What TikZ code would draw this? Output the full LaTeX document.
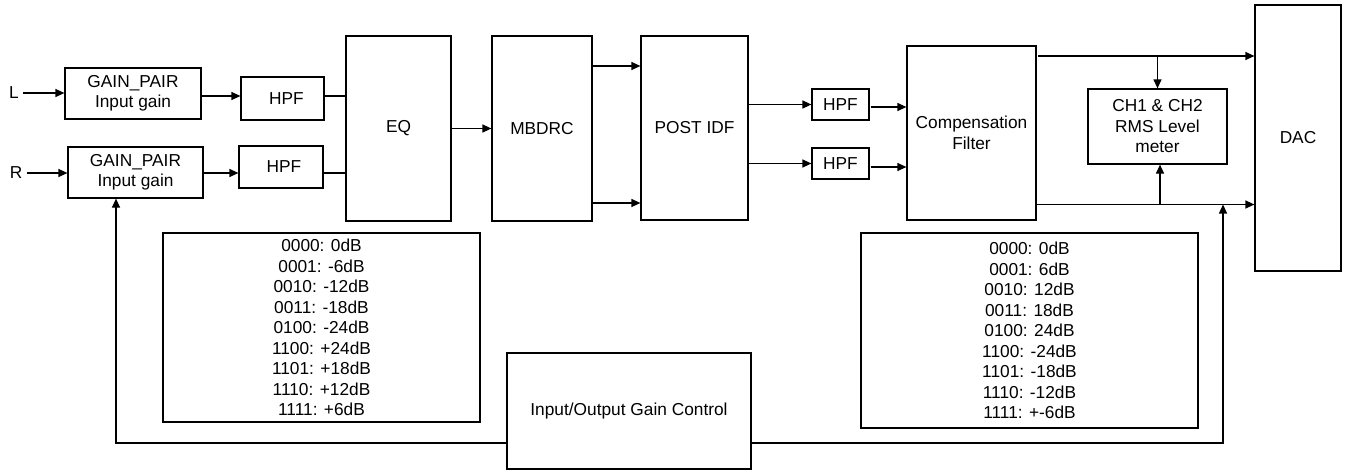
\documentclass[tikz,border=0pt]{standalone}
\usepackage{fontspec}
\setmainfont{Liberation Sans}
\usetikzlibrary{arrows.meta}
\newcommand\diafont{\fontsize{17.3pt}{20.5pt}\selectfont}
\begin{document}
\begin{tikzpicture}[x=1pt,y=-1pt,line width=1.2pt,
  box/.style={draw,line width=1.2pt,inner sep=0pt,align=center,font=\diafont},
  arr/.style={-{Triangle[length=9pt,width=8pt]}},
  lbl/.style={font=\diafont,inner sep=4pt}]
\useasboundingbox (0,0) rectangle (1349,471);
% blocks
\node[box,minimum width=136pt,minimum height=51pt] (gl) at (133,93.5) {GAIN\_PAIR\\Input gain};
\node[box,minimum width=135pt,minimum height=51pt] (gr) at (135.5,172.5) {GAIN\_PAIR\\Input gain};
\node[box,minimum width=83pt,minimum height=43pt] (hl) at (282.5,98.5) {\hspace*{8pt}HPF};
\node[box,minimum width=84pt,minimum height=42pt] (hr) at (281,167) {\hspace*{6pt}HPF};
\node[box,minimum width=105pt,minimum height=185pt] (eq) at (398.5,128.5) {EQ};
\node[box,minimum width=100pt,minimum height=185pt] (mb) at (542,128.5) {MBDRC};
\node[box,minimum width=107pt,minimum height=184pt] (post) at (694.5,128) {POST IDF};
\node[box,minimum width=57pt,minimum height=31pt] (h3) at (840.5,104.5) {HPF};
\node[box,minimum width=57pt,minimum height=31pt] (h4) at (840.5,163.5) {HPF};
\node[box,minimum width=129pt,minimum height=174pt] (comp) at (971.5,133) {Compensation\\Filter};
\node[box,minimum width=139pt,minimum height=75pt] (rms) at (1157.5,126.5) {CH1 \& CH2\\RMS Level\\meter};
\node[box,minimum width=86pt,minimum height=266pt] (dac) at (1298,138) {DAC};
\node[box,minimum width=317pt,minimum height=189pt] (tl) at (321.5,327.5)
  {0000: 0dB\\0001: -6dB\\0010: -12dB\\0011: -18dB\\0100: -24dB\\1100: +24dB\\1101: +18dB\\1110: +12dB\\1111: +6dB};
\node[box,minimum width=337pt,minimum height=195pt] (tr) at (1029.5,330.5)
  {0000: 0dB\\0001: 6dB\\0010: 12dB\\0011: 18dB\\0100: 24dB\\1100: -24dB\\1101: -18dB\\1110: -12dB\\1111: +-6dB};
\node[box,minimum width=244pt,minimum height=116pt] (io) at (629,411) {Input/Output Gain Control};
% input labels
\node[lbl] (Lt) at (14,93) {L};
\node[lbl] (Rt) at (16,173) {R};
% connectors
\draw[arr] (Lt.east) -- (Lt.east -| gl.west);
\draw[arr] (Rt.east) -- (Rt.east -| gr.west);
\draw[arr] (gl.east |- 0,96) -- (hl.west |- 0,96);
\draw[arr] (gr.east |- 0,173) -- (hr.west |- 0,173);
\draw (hl.east |- 0,96) -- (eq.west |- 0,96);
\draw (hr.east |- 0,173) -- (eq.west |- 0,173);
\draw[arr] (eq.east) -- (mb.west);
\draw[arr] (mb.east |- 0,66) -- (post.west |- 0,66);
\draw[arr] (mb.east |- 0,203) -- (post.west |- 0,203);
\draw[arr] (post.east |- h3.west) -- (h3.west);
\draw[arr] (post.east |- h4.west) -- (h4.west);
\draw[arr] ([xshift=1pt]h3.east |- 0,107) -- (comp.west |- 0,107);
\draw[arr] ([xshift=1pt]h4.east |- 0,167) -- (comp.west |- 0,167);
\draw[arr] ([xshift=1.5pt]comp.east |- 0,56) -- (dac.west |- 0,56);
\draw[arr] (comp.east |- 0,204.5) -- (dac.west |- 0,204.5);
\draw[arr] (rms.north |- 0,56) -- (rms.north);
\draw[arr] ([xshift=2.5pt]rms.south |- 0,204.5) -- ([xshift=2.5pt]rms.south);
\coordinate (jl) at (116,443);
\coordinate (jr) at (1223,204.5);
\draw[arr] (io.west |- jl) -| (gr.south -| jl);
\draw[arr] (io.east |- jl) -| (jr);
\end{tikzpicture}
\end{document}
